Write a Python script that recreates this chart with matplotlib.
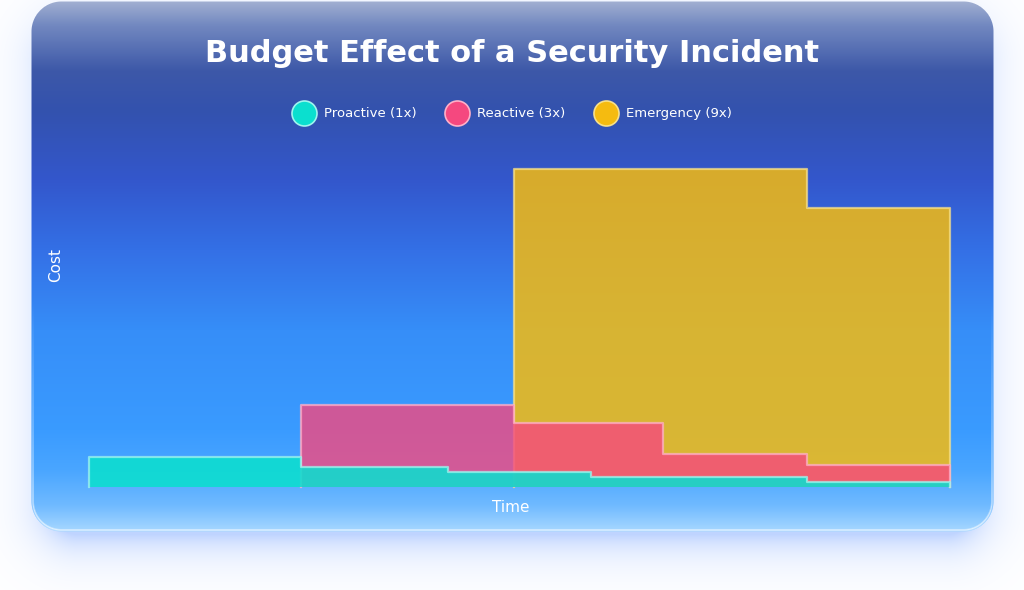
import numpy as np
import matplotlib
matplotlib.use("Agg")
import matplotlib.pyplot as plt
from matplotlib.lines import Line2D

# Data (time in months, cost in arbitrary units)
TIME = [0, 2.95, 5.0, 5.93, 7.0, 8.0, 10.0, 12.0]
PROACTIVE = [3.0, 2.0, 1.55, 1.55, 1.05, 1.05, 0.55, 0.55]
REACTIVE = [0, 8.2, 8.2, 6.4, 6.4, 3.3, 2.2, 2.2]
EMERGENCY = [0, 0, 0, 31.8, 31.8, 31.8, 27.9, 27.9]

SERIES = ["Proactive (1x)", "Reactive (3x)", "Emergency (9x)"]
COLORS = ["#0bdfcf", "#f5487f", "#f5bb10"]
EDGES = ["#9ff5ee", "#ffb0c8", "#f7e08a"]

W, H, DPI = 1024, 590, 100


def hex_rgb(h):
    h = h.lstrip("#")
    return np.array([int(h[i:i + 2], 16) for i in (0, 2, 4)]) / 255.0


def rounded_box_sdf(px, py, cx, cy, hx, hy, r):
    qx = np.abs(px - cx) - (hx - r)
    qy = np.abs(py - cy) - (hy - r)
    outside = np.hypot(np.maximum(qx, 0), np.maximum(qy, 0))
    inside = np.minimum(np.maximum(qx, qy), 0)
    return outside + inside - r


# Background: white page, blue glow, gradient card
yy, xx = np.mgrid[0:H, 0:W].astype(float)
img = np.ones((H, W, 3))

d_shadow = rounded_box_sdf(xx, yy, 512, 284, 474, 262, 40)
glow = 0.75 * np.exp(-np.maximum(d_shadow + 12, 0) / 20.0)
glow_col = hex_rgb("#aac6ff")
img = img * (1 - glow[..., None]) + glow_col * glow[..., None]

stops_y = [0, 25, 70, 110, 180, 250, 330, 430, 470, 505, 531]
stops_c = ["#a3b1d2", "#7288c0", "#3d58a8", "#3352ae", "#3357cc", "#3470e6",
           "#368ef8", "#3a9bff", "#4aa6ff", "#70baff", "#a8d8ff"]
stops_rgb = np.array([hex_rgb(c) for c in stops_c])
grad = np.stack([np.interp(yy[:, 0], stops_y, stops_rgb[:, k]) for k in range(3)], axis=1)
card = np.repeat(grad[:, None, :], W, axis=1)

d_card = rounded_box_sdf(xx, yy, 512, 266, 481, 265, 30)
rim = np.clip(1 - np.abs(d_card + 1.5) / 1.5, 0, 1) * np.clip((yy - 300) / 230, 0, 1) * 0.7
card = card * (1 - rim[..., None]) + rim[..., None]
a_card = np.clip(0.5 - d_card, 0, 1)[..., None]
img = img * (1 - a_card) + card * a_card

fig = plt.figure(figsize=(W / DPI, H / DPI), dpi=DPI)
bg = fig.add_axes([0, 0, 1, 1])
bg.imshow(img, extent=[0, W, H, 0], interpolation="bilinear")
bg.set_xlim(0, W)
bg.set_ylim(H, 0)
bg.axis("off")

# Plot area
ax = fig.add_axes([89 / W, (H - 487) / H, (950 - 89) / W, 350 / H])
ax.patch.set_alpha(0)
ax.set_xlim(0, 12)
ax.set_ylim(0, 35)
for s in ax.spines.values():
    s.set_visible(False)
ax.set_xticks([])
ax.set_yticks([])

for values, color, edge, alpha, z in [
    (EMERGENCY, COLORS[2], EDGES[2], 0.85, 2),
    (REACTIVE, COLORS[1], EDGES[1], 0.8, 3),
    (PROACTIVE, COLORS[0], EDGES[0], 0.88, 4),
]:
    ax.fill_between(TIME, values, step="post", color=color, alpha=alpha,
                    linewidth=0, zorder=z)
    first = next(i for i, v in enumerate(values) if v > 0)
    lx = [TIME[first]] + TIME[first:] + [TIME[-1]]
    ly = [0] + values[first:] + [0]
    ax.plot(lx, ly, drawstyle="steps-post", color=edge, lw=1.6, alpha=0.75,
            zorder=z + 0.5, solid_joinstyle="round", clip_on=False)

# Text
fig.text(512 / W, 1 - 53 / H, "Budget Effect of a Security Incident", color="white",
         fontsize=22, fontweight="bold", family="DejaVu Sans", ha="center", va="center")
fig.text(56 / W, 1 - 265 / H, "Cost", color="white", fontsize=11, family="DejaVu Sans",
         rotation=90, ha="center", va="center")
fig.text(511 / W, 1 - 507 / H, "Time", color="white", fontsize=11, family="DejaVu Sans",
         ha="center", va="center")

# Legend
legend_x = [304, 457, 606]
for name, color, edge, lx in zip(SERIES, COLORS, EDGES, legend_x):
    fig.add_artist(Line2D([lx / W], [1 - 113 / H], marker="o", markersize=18,
                          markerfacecolor=color, markeredgecolor=edge,
                          markeredgewidth=1.2, transform=fig.transFigure))
    fig.text((lx + 20) / W, 1 - 113 / H, name, color="white", fontsize=9.5,
             family="DejaVu Sans", ha="left", va="center")

fig.savefig("out.png", dpi=DPI)
